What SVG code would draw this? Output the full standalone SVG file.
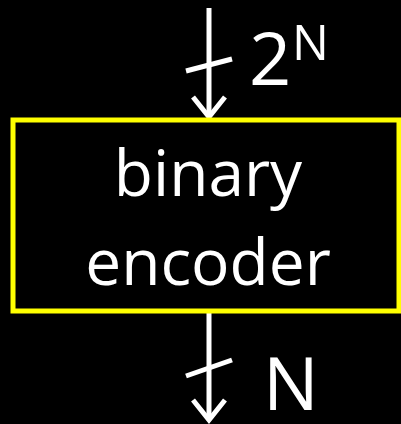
<svg xmlns="http://www.w3.org/2000/svg" width="401" height="424" viewBox="0 0 401 424">
<style>
.t{font-family:"Open Sans","Liberation Sans",sans-serif;fill:#fff}
.w{stroke:#fff;stroke-width:5;fill:none;stroke-linecap:butt}
</style>
<rect width="401" height="424" fill="#000"/>
<g id="connectors">
<line class="w" x1="209" y1="8" x2="209" y2="116"/>
<polyline class="w" points="193,97 209,117 225,97" stroke-linejoin="miter"/>
<line class="w" x1="186" y1="71" x2="232" y2="59"/>
<line class="w" x1="209" y1="313" x2="209" y2="419"/>
<polyline class="w" points="193,400 209,420 225,400" stroke-linejoin="miter"/>
<line class="w" x1="186" y1="376" x2="232" y2="360"/>
</g>
<g id="encoder">
<rect x="13" y="120" width="386" height="191" fill="#000" stroke="#ffff00" stroke-width="5"/>
<text class="t" x="208" y="196" font-size="64" text-anchor="middle">binary</text>
<text class="t" x="208" y="285" font-size="64" text-anchor="middle">encoder</text>
</g>
<g id="label-in">
<text class="t" x="249" y="85" font-size="74">2</text>
<text class="t" x="292" y="60" font-size="49">N</text>
</g>
<g id="label-out">
<text class="t" x="263" y="410" font-size="74">N</text>
</g>
</svg>
